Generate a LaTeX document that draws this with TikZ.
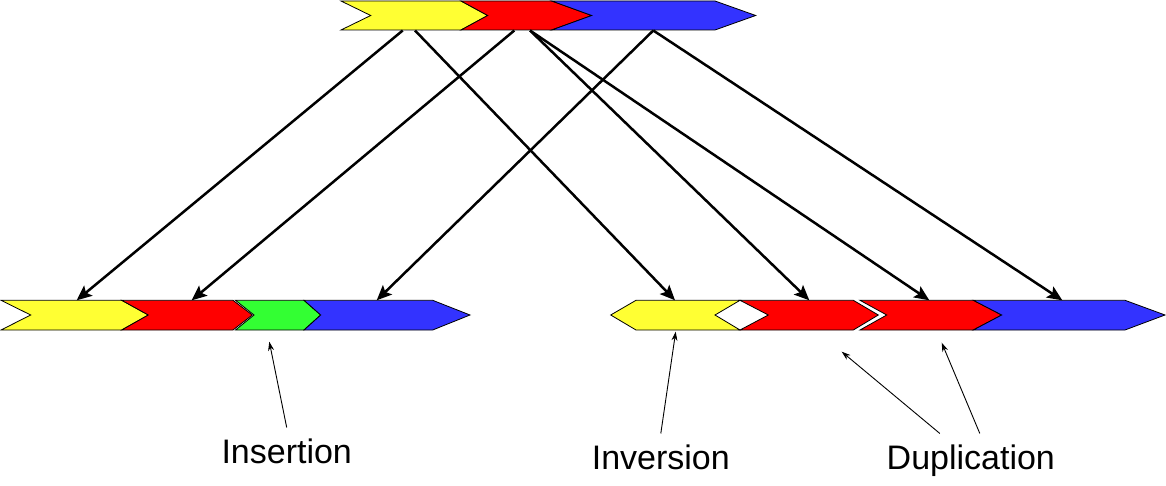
\documentclass[tikz,border=0pt]{standalone}
\usepackage{fontspec}
\setmainfont{Liberation Sans}
\usetikzlibrary{arrows.meta}
\definecolor{segyellow}{RGB}{255,255,51}
\definecolor{segred}{RGB}{255,0,0}
\definecolor{seggreen}{RGB}{51,255,51}
\definecolor{segblue}{RGB}{51,51,255}
\tikzstyle{seg}=[draw=black,line width=0.8pt,line join=miter]
\tikzstyle{map}=[draw=black,line width=2.5pt,-{Stealth[length=15pt,width=13pt,inset=3pt]}]
\tikzstyle{note}=[draw=black,line width=0.9pt,-{Stealth[length=9pt,width=6pt]}]
\tikzstyle{lbl}=[anchor=base,inner sep=11pt,font=\fontsize{34}{40}\selectfont]

\begin{document}
\begin{tikzpicture}[x=1pt,y=-1pt]
        \useasboundingbox (0,0) rectangle (1166,486);
        % original order
        \filldraw[seg,fill=segyellow] (341,1) -- (461,1) -- (487.7,15.5) -- (461,30) -- (341,30) -- (370.7,15.5) -- cycle;
        \filldraw[seg,fill=segred] (461,1) -- (551.7,1) -- (591.7,15.5) -- (551.7,30) -- (461,30) -- (487.7,15.5) -- cycle;
        \filldraw[seg,fill=segblue] (551.7,1) -- (715,1) -- (755.7,15.5) -- (715,30) -- (551.7,30) -- (591.7,15.5) -- cycle;
        % with insertion
        \filldraw[seg,fill=segyellow] (1,300.3) -- (121.7,300.3) -- (148.3,315) -- (121.7,330) -- (1,330) -- (30.7,315) -- cycle;
        \filldraw[seg,fill=segred] (121.7,300.3) -- (233,300.3) -- (252.3,315) -- (233,330) -- (121.7,330) -- (148.3,315) -- cycle;
        \filldraw[seg,fill=seggreen] (235.5,300.3) -- (304,300.3) -- (320.7,315) -- (304,330) -- (235.5,330) -- (254,315) -- cycle;
        \filldraw[seg,fill=segblue] (304,300.3) -- (432.7,300.3) -- (470,315) -- (432.7,330) -- (304,330) -- (320.7,315) -- cycle;
        % with inversion and duplication
        \filldraw[seg,fill=segyellow] (610.7,315) -- (636,300.3) -- (740,300.3) -- (715,315) -- (740,330) -- (636,330) -- cycle;
        \filldraw[seg,fill=segred] (740,300.3) -- (853.3,300.3) -- (878.3,315) -- (853.3,330) -- (740,330) -- (768.3,315) -- cycle;
        \filldraw[seg,fill=segred] (860,300.3) -- (973.3,300.3) -- (1001.7,315) -- (973.3,330) -- (860,330) -- (886.7,315) -- cycle;
        \filldraw[seg,fill=segblue] (973.3,300.3) -- (1125,300.3) -- (1165,315) -- (1125,330) -- (973.3,330) -- (1001.7,315) -- cycle;

        \coordinate (ya) at (402.7,30.5);
        \coordinate (yb) at (415,30.5);
        \coordinate (ra) at (514.3,30.5);
        \coordinate (rb) at (530,30.5);
        \coordinate (ba) at (653.3,30.5);
        \coordinate (insy) at (76.7,300.3);
        \coordinate (insr) at (191.7,300.3);
        \coordinate (insb) at (376.7,300.3);
        \coordinate (invy) at (675,300.3);
        \coordinate (invr) at (809.3,300.3);
        \coordinate (dupr) at (929.3,300.3);
        \coordinate (dupb) at (1062.3,300.3);
        \draw[map] (ya) to (insy);
        \draw[map] (yb) to (invy);
        \draw[map] (ra) to (insr);
        \draw[map] (rb) to (invr);
        \draw[map] (rb) to (dupr);
        \draw[map] (ba) to (insb);
        \draw[map] (ba) to (dupb);

        \node[style=lbl] (ins) at (286.7,463.3) {Insertion};
        \node[style=lbl] (inv) at (660.8,469.3) {Inversion};
        \node[style=lbl] (dup) at (970.8,469.3) {Duplication};
        \coordinate (gp) at (269.3,341.7);
        \coordinate (ip) at (675.7,331.7);
        \coordinate (dpa) at (841.7,351.7);
        \coordinate (dpb) at (941.7,342.7);
        \draw[note] (ins.north) to (gp);
        \draw[note] (inv.north) to (ip);
        \draw[note] ([xshift=-31pt]dup.north) to (dpa);
        \draw[note] ([xshift=9pt]dup.north) to (dpb);
    \end{tikzpicture}
\end{document}
